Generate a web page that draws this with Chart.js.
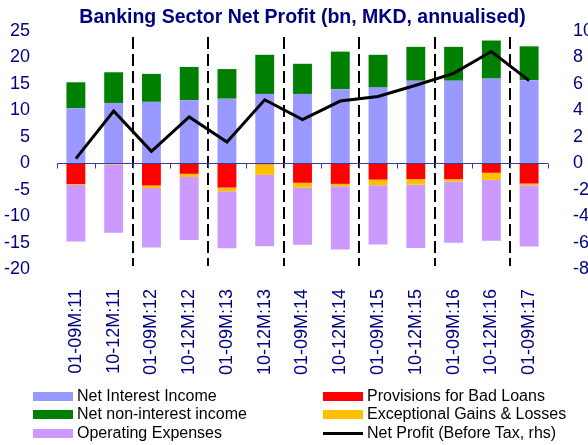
<!DOCTYPE html>
<html>
<head>
<meta charset="utf-8">
<script src="https://cdn.jsdelivr.net/npm/chart.js@4.4.1/dist/chart.umd.min.js"></script>
<style>
    body { margin: 0; background: #fff; }
    #wrap { position: relative; width: 588px; height: 445px; }
    #legend { position: absolute; left: 0; top: 0; width: 588px; height: 445px; pointer-events: none;
        font-family: Arial, "Liberation Sans", sans-serif; font-size: 16px; color: #000; }
    .item { position: absolute; height: 20px; line-height: 20px; white-space: nowrap; }
    .sw { position: absolute; left: 0; width: 40px; }
    .item span.txt { position: absolute; left: 44px; top: 0; }
</style>
</head>
<body>
<div id="wrap">
    <canvas id="chart" width="588" height="445"></canvas>
    <div id="legend"></div>
</div>
<script>
const categories = ['01-09M:11', '10-12M:11', '01-09M:12', '10-12M:12', '01-09M:13', '10-12M:13',
    '01-09M:14', '10-12M:14', '01-09M:15', '10-12M:15', '01-09M:16', '10-12M:16', '01-09M:17'];

const netInterestIncome = [10.4, 11.4, 11.6, 11.9, 12.2, 13.1, 13.1, 14.0, 14.3, 15.6, 15.6, 16.0, 15.7];
const netNonInterestIncome = [4.9, 5.8, 5.3, 6.3, 5.6, 7.4, 5.7, 7.1, 6.2, 6.4, 6.4, 7.2, 6.4];
const provisions = [-3.95, -0.1, -4.2, -2.0, -4.6, -0.2, -3.7, -3.9, -3.1, -3.0, -3.0, -1.8, -3.85];
const exceptional = [-0.15, -0.15, -0.5, -0.6, -0.7, -2.0, -0.9, -0.45, -1.05, -1.05, -0.45, -1.35, -0.3];
const operatingExpenses = [-10.7, -12.9, -11.25, -11.9, -10.8, -13.5, -10.8, -11.95, -11.2, -12.0, -11.6, -11.5, -11.6];
const netProfit = [0.35, 3.95, 0.9, 3.5, 1.6, 4.8, 3.3, 4.7, 5.05, 5.9, 6.8, 8.45, 6.25];

const leftTicks = [-20, -15, -10, -5, 0, 5, 10, 15, 20, 25];
const rightTicks = [-8, -6, -4, -2, 0, 2, 4, 6, 8, 10];

const navy = '#000080';
const font = 'Arial, "Liberation Sans", sans-serif';

// dashed separators, zero line and tick marks
const decorPlugin = {
    id: 'decor',
    beforeDatasetsDraw(chart) {
        const ctx = chart.ctx;
        const x = chart.scales.x;
        const area = chart.chartArea;
        const half = (x.getPixelForValue(1) - x.getPixelForValue(0)) / 2;
        ctx.save();
        ctx.strokeStyle = '#000';
        ctx.lineWidth = 2;
        ctx.setLineDash([12, 5]);
        for (let i = 2; i < categories.length; i += 2) {
            const px = Math.round(x.getPixelForValue(i) - half);
            ctx.beginPath();
            ctx.moveTo(px, area.top + 6);
            ctx.lineTo(px, area.bottom - 3);
            ctx.stroke();
        }
        ctx.restore();
    },
    afterDatasetsDraw(chart) {
        const ctx = chart.ctx;
        const x = chart.scales.x;
        const y = chart.scales.y;
        const half = (x.getPixelForValue(1) - x.getPixelForValue(0)) / 2;
        const y0 = Math.round(y.getPixelForValue(0)) + 0.5;
        ctx.save();
        ctx.strokeStyle = '#3a3a9a';
        ctx.lineWidth = 1;
        ctx.beginPath();
        ctx.moveTo(x.left, y0);
        ctx.lineTo(x.right, y0);
        for (let i = 0; i <= categories.length; i++) {
            const px = Math.round(x.getPixelForValue(0) - half + i * 2 * half) + 0.5;
            ctx.moveTo(px, y0);
            ctx.lineTo(px, y0 + 5);
        }
        ctx.stroke();
        ctx.restore();
    },
    afterDraw(chart) {
        const ctx = chart.ctx;
        const area = chart.chartArea;
        ctx.save();
        ctx.fillStyle = navy;
        ctx.font = 'bold 19.5px ' + font;
        ctx.textAlign = 'center';
        ctx.textBaseline = 'middle';
        ctx.fillText('Banking Sector Net Profit (bn, MKD, annualised)', (area.left + area.right) / 2, 18);
        ctx.restore();
    }
};

const ctx = document.getElementById('chart').getContext('2d');
const chart = new Chart(ctx, {
    type: 'bar',
    data: {
        labels: categories,
        datasets: [
            { label: 'Net Interest Income', data: netInterestIncome, backgroundColor: '#9999ff', order: 1 },
            { label: 'Net non-interest income', data: netNonInterestIncome, backgroundColor: '#008000', order: 1 },
            { label: 'Provisions for Bad Loans', data: provisions, backgroundColor: '#ff0000', order: 1 },
            { label: 'Exceptional Gains & Losses', data: exceptional, backgroundColor: '#ffc000', order: 1 },
            { label: 'Operating Expenses', data: operatingExpenses, backgroundColor: '#cc99ff', order: 1 },
            {
                label: 'Net Profit (Before Tax, rhs)',
                type: 'line',
                data: netProfit,
                yAxisID: 'y1',
                borderColor: '#000',
                borderWidth: 3,
                pointRadius: 0,
                tension: 0,
                fill: false,
                order: 0
            }
        ]
    },
    options: {
        responsive: false,
        animation: false,
        barPercentage: 0.5,
        categoryPercentage: 1.0,
        layout: { padding: { top: 31, left: 0, right: 0, bottom: 0 } },
        plugins: {
            legend: { display: false },
            title: { display: false },
            tooltip: { enabled: false }
        },
        scales: {
            x: {
                stacked: true,
                offset: true,
                grid: { display: false },
                border: { display: false },
                ticks: {
                    color: navy,
                    font: { family: font, size: 18 },
                    minRotation: 90,
                    maxRotation: 90,
                    padding: 12,
                    autoSkip: false
                },
                afterFit(scale) { scale.height = 176; }
            },
            y: {
                stacked: true,
                min: leftTicks[0],
                max: leftTicks[leftTicks.length - 1],
                grid: { display: false },
                border: { display: false },
                afterBuildTicks(scale) { scale.ticks = leftTicks.map(v => ({ value: v })); },
                ticks: {
                    color: navy,
                    font: { family: font, size: 18 },
                    padding: 19
                },
                afterFit(scale) { scale.width = 57; }
            },
            y1: {
                position: 'right',
                min: rightTicks[0],
                max: rightTicks[rightTicks.length - 1],
                grid: { display: false },
                border: { display: false },
                afterBuildTicks(scale) { scale.ticks = rightTicks.map(v => ({ value: v })); },
                ticks: {
                    color: navy,
                    font: { family: font, size: 18 },
                    padding: 17
                },
                afterFit(scale) { scale.width = 40; }
            }
        }
    },
    plugins: [decorPlugin]
});

// legend in two columns, built from the datasets
const legendOrder = [[0, 2], [1, 3], [4, 5]];
const rowTops = [386, 404, 423];
const colLefts = [33, 323];
const legendEl = document.getElementById('legend');
legendOrder.forEach((row, r) => {
    row.forEach((di, c) => {
        const ds = chart.data.datasets[di];
        const item = document.createElement('div');
        item.className = 'item';
        item.style.left = colLefts[c] + 'px';
        item.style.top = rowTops[r] + 'px';
        const sw = document.createElement('div');
        sw.className = 'sw';
        if (ds.type === 'line') {
            sw.style.top = '9px';
            sw.style.height = '3px';
            sw.style.background = ds.borderColor;
        } else {
            sw.style.top = '6px';
            sw.style.height = '9px';
            sw.style.background = ds.backgroundColor;
        }
        const txt = document.createElement('span');
        txt.className = 'txt';
        txt.textContent = ds.label;
        item.appendChild(sw);
        item.appendChild(txt);
        legendEl.appendChild(item);
    });
});
</script>
</body>
</html>
